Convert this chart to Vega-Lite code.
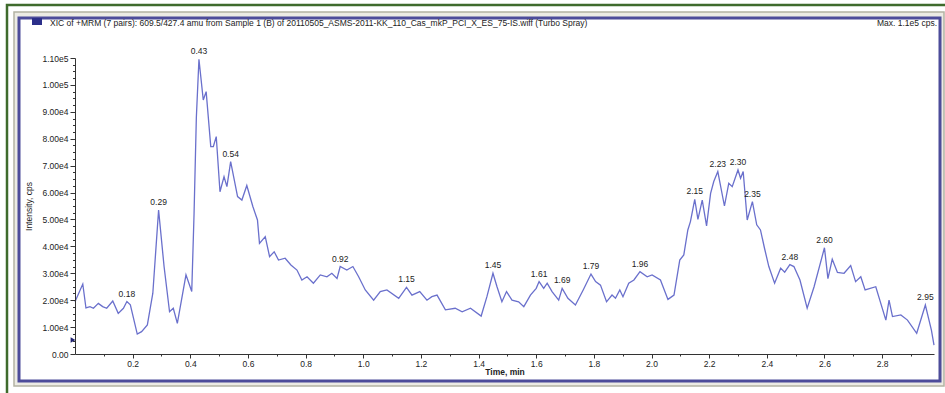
{
  "$schema": "https://vega.github.io/schema/vega-lite/v6.json",
  "width": 859,
  "height": 296,
  "autosize": {"type": "none"},
  "padding": {"left": 75, "top": 58, "right": 11, "bottom": 39},
  "background": "white",
  "config": {
    "view": {"stroke": null},
    "font": "Liberation Sans",
    "axis": {"grid": false, "labelFont": "Liberation Sans", "titleFont": "Liberation Sans", "domainColor": "#333333", "tickColor": "#333333", "labelColor": "#222222", "titleColor": "#222222"}
  },
  "datasets": {
    "trace": [
      {"t": 0.000, "cps": 19400},
      {"t": 0.027, "cps": 26000},
      {"t": 0.038, "cps": 17100},
      {"t": 0.052, "cps": 17600},
      {"t": 0.064, "cps": 17000},
      {"t": 0.081, "cps": 18800},
      {"t": 0.096, "cps": 17600},
      {"t": 0.110, "cps": 17000},
      {"t": 0.131, "cps": 19700},
      {"t": 0.150, "cps": 15100},
      {"t": 0.168, "cps": 17000},
      {"t": 0.180, "cps": 19500, "apex": true},
      {"t": 0.192, "cps": 18300},
      {"t": 0.216, "cps": 7400},
      {"t": 0.231, "cps": 8300},
      {"t": 0.251, "cps": 10800},
      {"t": 0.270, "cps": 22600},
      {"t": 0.290, "cps": 53500, "apex": true},
      {"t": 0.309, "cps": 32500},
      {"t": 0.328, "cps": 15700},
      {"t": 0.341, "cps": 17000},
      {"t": 0.355, "cps": 11400},
      {"t": 0.385, "cps": 29400},
      {"t": 0.405, "cps": 23200},
      {"t": 0.413, "cps": 52000},
      {"t": 0.421, "cps": 88000},
      {"t": 0.430, "cps": 109500, "apex": true},
      {"t": 0.445, "cps": 94400},
      {"t": 0.455, "cps": 97500},
      {"t": 0.471, "cps": 77100},
      {"t": 0.480, "cps": 77100},
      {"t": 0.490, "cps": 80800},
      {"t": 0.503, "cps": 60300},
      {"t": 0.517, "cps": 65900},
      {"t": 0.527, "cps": 62200},
      {"t": 0.540, "cps": 71500, "apex": true},
      {"t": 0.564, "cps": 58500},
      {"t": 0.579, "cps": 57200},
      {"t": 0.596, "cps": 62600},
      {"t": 0.617, "cps": 54800},
      {"t": 0.633, "cps": 49800},
      {"t": 0.640, "cps": 41100},
      {"t": 0.660, "cps": 43600},
      {"t": 0.675, "cps": 36200},
      {"t": 0.691, "cps": 38000},
      {"t": 0.706, "cps": 34900},
      {"t": 0.729, "cps": 35600},
      {"t": 0.749, "cps": 33100},
      {"t": 0.770, "cps": 31200},
      {"t": 0.787, "cps": 27500},
      {"t": 0.805, "cps": 28700},
      {"t": 0.827, "cps": 26300},
      {"t": 0.851, "cps": 29400},
      {"t": 0.874, "cps": 28700},
      {"t": 0.891, "cps": 30000},
      {"t": 0.909, "cps": 28100},
      {"t": 0.920, "cps": 32500, "apex": true},
      {"t": 0.943, "cps": 31200},
      {"t": 0.964, "cps": 32500},
      {"t": 0.984, "cps": 28700},
      {"t": 1.007, "cps": 23800},
      {"t": 1.036, "cps": 20000},
      {"t": 1.059, "cps": 23200},
      {"t": 1.082, "cps": 23800},
      {"t": 1.123, "cps": 20700},
      {"t": 1.150, "cps": 24800, "apex": true},
      {"t": 1.169, "cps": 21900},
      {"t": 1.196, "cps": 23200},
      {"t": 1.221, "cps": 20000},
      {"t": 1.238, "cps": 21300},
      {"t": 1.256, "cps": 21900},
      {"t": 1.285, "cps": 16400},
      {"t": 1.319, "cps": 17000},
      {"t": 1.343, "cps": 15700},
      {"t": 1.372, "cps": 17000},
      {"t": 1.409, "cps": 14100},
      {"t": 1.429, "cps": 21300},
      {"t": 1.450, "cps": 30000, "apex": true},
      {"t": 1.464, "cps": 25000},
      {"t": 1.481, "cps": 19400},
      {"t": 1.497, "cps": 23200},
      {"t": 1.516, "cps": 20000},
      {"t": 1.539, "cps": 19400},
      {"t": 1.557, "cps": 17600},
      {"t": 1.580, "cps": 21900},
      {"t": 1.600, "cps": 24400},
      {"t": 1.610, "cps": 26900, "apex": true},
      {"t": 1.626, "cps": 24400},
      {"t": 1.638, "cps": 26300},
      {"t": 1.655, "cps": 23200},
      {"t": 1.678, "cps": 20000},
      {"t": 1.690, "cps": 24400, "apex": true},
      {"t": 1.710, "cps": 20700},
      {"t": 1.736, "cps": 18200},
      {"t": 1.763, "cps": 23800},
      {"t": 1.790, "cps": 29700, "apex": true},
      {"t": 1.806, "cps": 26900},
      {"t": 1.823, "cps": 25600},
      {"t": 1.844, "cps": 19400},
      {"t": 1.863, "cps": 21900},
      {"t": 1.875, "cps": 20700},
      {"t": 1.890, "cps": 23800},
      {"t": 1.901, "cps": 21300},
      {"t": 1.921, "cps": 26300},
      {"t": 1.939, "cps": 27500},
      {"t": 1.960, "cps": 30600, "apex": true},
      {"t": 1.985, "cps": 28700},
      {"t": 2.002, "cps": 29400},
      {"t": 2.031, "cps": 27500},
      {"t": 2.057, "cps": 20300},
      {"t": 2.078, "cps": 21900},
      {"t": 2.098, "cps": 34900},
      {"t": 2.112, "cps": 36800},
      {"t": 2.126, "cps": 46100},
      {"t": 2.135, "cps": 49200},
      {"t": 2.150, "cps": 57500, "apex": true},
      {"t": 2.161, "cps": 50000},
      {"t": 2.176, "cps": 57200},
      {"t": 2.191, "cps": 47600},
      {"t": 2.205, "cps": 59700},
      {"t": 2.216, "cps": 64100},
      {"t": 2.230, "cps": 67800, "apex": true},
      {"t": 2.253, "cps": 55000},
      {"t": 2.268, "cps": 63400},
      {"t": 2.280, "cps": 62200},
      {"t": 2.300, "cps": 68400, "apex": true},
      {"t": 2.309, "cps": 65300},
      {"t": 2.318, "cps": 67800},
      {"t": 2.332, "cps": 49800},
      {"t": 2.350, "cps": 56600, "apex": true},
      {"t": 2.365, "cps": 48000},
      {"t": 2.378, "cps": 46100},
      {"t": 2.392, "cps": 39300},
      {"t": 2.407, "cps": 32500},
      {"t": 2.427, "cps": 26300},
      {"t": 2.448, "cps": 31900},
      {"t": 2.462, "cps": 30400},
      {"t": 2.480, "cps": 33200, "apex": true},
      {"t": 2.494, "cps": 32500},
      {"t": 2.515, "cps": 27500},
      {"t": 2.540, "cps": 17000},
      {"t": 2.564, "cps": 25000},
      {"t": 2.600, "cps": 39500, "apex": true},
      {"t": 2.612, "cps": 28000},
      {"t": 2.627, "cps": 35200},
      {"t": 2.645, "cps": 30300},
      {"t": 2.668, "cps": 30000},
      {"t": 2.691, "cps": 32900},
      {"t": 2.708, "cps": 26900},
      {"t": 2.726, "cps": 28700},
      {"t": 2.741, "cps": 23800},
      {"t": 2.778, "cps": 25000},
      {"t": 2.813, "cps": 12600},
      {"t": 2.824, "cps": 20000},
      {"t": 2.836, "cps": 13900},
      {"t": 2.865, "cps": 14500},
      {"t": 2.888, "cps": 12600},
      {"t": 2.920, "cps": 7700},
      {"t": 2.950, "cps": 18200, "apex": true},
      {"t": 2.971, "cps": 8900},
      {"t": 2.980, "cps": 3300}
    ],
    "marker": [{"t": 0, "cps": 5200}]
  },
  "resolve": {"axis": {"x": "independent", "y": "independent"}},
  "layer": [
    {
      "data": {"values": [{}]},
      "mark": {"type": "rect", "fill": null, "stroke": "#3f6b2c", "strokeWidth": 2.5},
      "encoding": {"x": {"value": -68}, "x2": {"value": 900}, "y": {"value": -53}, "y2": {"value": 360}}
    },
    {
      "data": {"values": [{}]},
      "mark": {"type": "rect", "fill": "#ecebe4", "stroke": "#b3b3a3", "strokeWidth": 1.5},
      "encoding": {"x": {"value": -61}, "x2": {"value": 869}, "y": {"value": -46}, "y2": {"value": 328}}
    },
    {
      "data": {"values": [{}]},
      "mark": {"type": "rect", "fill": "white", "stroke": "#4d4c9a", "strokeWidth": 3},
      "encoding": {"x": {"value": -56}, "x2": {"value": 865}, "y": {"value": -40}, "y2": {"value": 323}}
    },
    {
      "data": {"values": [{}]},
      "mark": {"type": "rect", "fill": "#2c2f8a"},
      "encoding": {"x": {"value": -43}, "x2": {"value": -33}, "y": {"value": -40}, "y2": {"value": -33}}
    },
    {
      "data": {"values": [{"text": "XIC of +MRM (7 pairs): 609.5/427.4 amu from Sample 1 (B) of 20110505_ASMS-2011-KK_110_Cas_mkP_PCI_X_ES_75-IS.wiff (Turbo Spray)"}]},
      "mark": {"type": "text", "align": "left", "baseline": "middle", "fontSize": 8.5, "color": "#222222"},
      "encoding": {"x": {"value": -25}, "y": {"value": -35}, "text": {"field": "text"}}
    },
    {
      "data": {"values": [{"text": "Max. 1.1e5 cps."}]},
      "mark": {"type": "text", "align": "right", "baseline": "middle", "fontSize": 8.5, "color": "#222222"},
      "encoding": {"x": {"value": 862}, "y": {"value": -35}, "text": {"field": "text"}}
    },
    {
      "data": {"name": "trace"},
      "mark": {"type": "line", "color": "#6a70cc", "strokeWidth": 1.3, "interpolate": "linear"},
      "encoding": {
        "x": {
          "field": "t", "type": "quantitative",
          "scale": {"domain": [0, 2.98], "nice": false, "zero": false},
          "axis": {
            "zindex": 1,
            "orient": "bottom",
            "values": [0.2, 0.4, 0.6, 0.8, 1.0, 1.2, 1.4, 1.6, 1.8, 2.0, 2.2, 2.4, 2.6, 2.8],
            "format": ".1f", "labelOverlap": false, "labelFlush": false,
            "tickSize": 4, "labelFontSize": 8.5, "labelPadding": 1,
            "title": "Time, min", "titleFontSize": 8.5, "titleFontWeight": "bold", "titlePadding": 0
          }
        },
        "y": {
          "field": "cps", "type": "quantitative",
          "scale": {"domain": [0, 110000], "nice": false},
          "axis": {
            "zindex": 1,
            "orient": "left",
            "values": [0, 10000, 20000, 30000, 40000, 50000, 60000, 70000, 80000, 90000, 100000, 110000],
            "labelExpr": "datum.value == 0 ? '0.00' : replace(format(datum.value, '.2e'), '+', '')",
            "labelOverlap": false, "labelFlush": false,
            "tickSize": 5, "labelFontSize": 8.5, "labelPadding": 2,
            "title": "Intensity, cps", "titleFontSize": 8.5, "titleFontWeight": "normal", "titlePadding": 9
          }
        }
      }
    },
    {
      "data": {"name": "trace"},
      "mark": {"type": "line", "strokeOpacity": 0},
      "encoding": {
        "x": {
          "field": "t", "type": "quantitative",
          "scale": {"domain": [0, 2.98], "nice": false, "zero": false},
          "axis": {"zindex": 1, "orient": "bottom", "values": [0.1, 0.3, 0.5, 0.7, 0.9, 1.1, 1.3, 1.5, 1.7, 1.9, 2.1, 2.3, 2.5, 2.7, 2.9], "labels": false, "domain": false, "tickSize": 2, "title": null}
        },
        "y": {
          "field": "cps", "type": "quantitative",
          "scale": {"domain": [0, 110000], "nice": false},
          "axis": {"zindex": 1, "orient": "left", "values": [2500, 5000, 7500, 12500, 15000, 17500, 22500, 25000, 27500, 32500, 35000, 37500, 42500, 45000, 47500, 52500, 55000, 57500, 62500, 65000, 67500, 72500, 75000, 77500, 82500, 85000, 87500, 92500, 95000, 97500, 102500, 105000, 107500], "labels": false, "domain": false, "tickSize": 2.5, "title": null}
        }
      }
    },
    {
      "data": {"name": "trace"},
      "transform": [{"filter": "datum.apex"}],
      "mark": {"type": "text", "baseline": "bottom", "align": "center", "dy": -3, "fontSize": 8.5, "color": "#222222"},
      "encoding": {
        "x": {"field": "t", "type": "quantitative", "scale": {"domain": [0, 2.98], "nice": false, "zero": false}, "axis": null},
        "y": {"field": "cps", "type": "quantitative", "scale": {"domain": [0, 110000], "nice": false}, "axis": null},
        "text": {"field": "t", "type": "quantitative", "format": ".2f"}
      }
    },
    {
      "data": {"name": "marker"},
      "mark": {"type": "point", "shape": "triangle-right", "filled": true, "color": "#1f2270", "size": 30, "xOffset": -2, "opacity": 1},
      "encoding": {
        "x": {"field": "t", "type": "quantitative", "scale": {"domain": [0, 2.98], "nice": false, "zero": false}, "axis": null},
        "y": {"field": "cps", "type": "quantitative", "scale": {"domain": [0, 110000], "nice": false}, "axis": null}
      }
    }
  ]
}
